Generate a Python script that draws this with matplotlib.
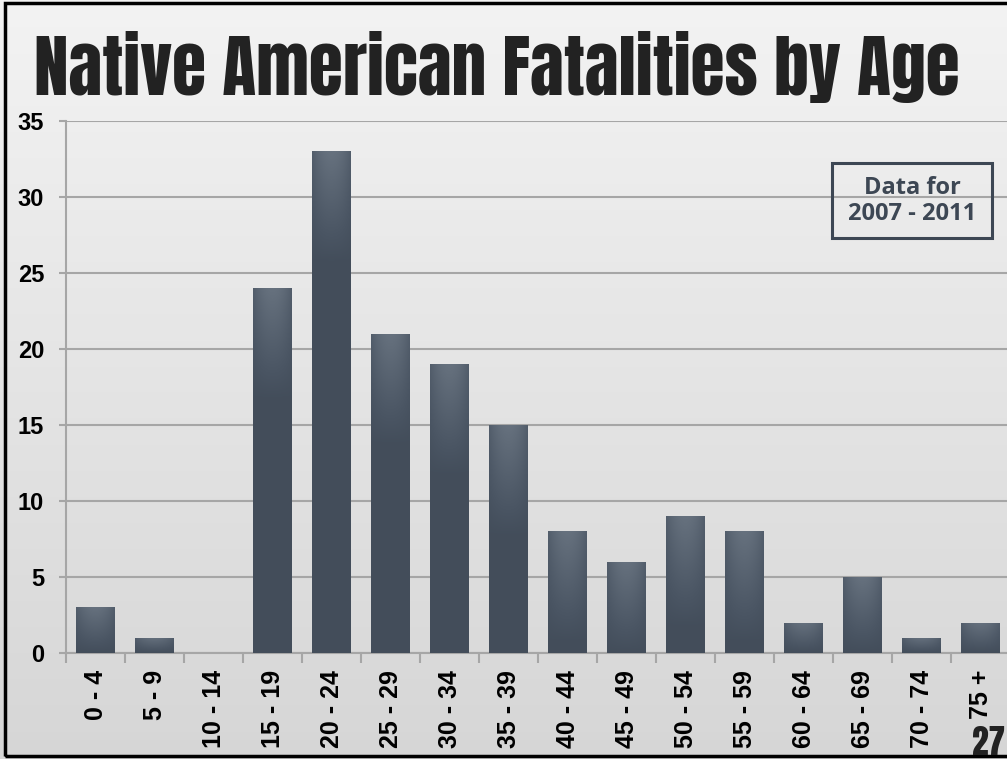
import matplotlib
matplotlib.use("Agg")
import matplotlib.pyplot as plt
import numpy as np
from matplotlib import font_manager
from matplotlib.colors import LinearSegmentedColormap

# data
age_groups = ["0 - 4", "5 - 9", "10 - 14", "15 - 19", "20 - 24", "25 - 29", "30 - 34",
              "35 - 39", "40 - 44", "45 - 49", "50 - 54", "55 - 59", "60 - 64",
              "65 - 69", "70 - 74", "75 +"]
fatalities = [3, 1, 0, 24, 33, 21, 19, 15, 8, 6, 9, 8, 2, 5, 1, 2]
y_ticks = [0, 5, 10, 15, 20, 25, 30, 35]

names = {f.name for f in font_manager.fontManager.ttflist}


def pick(cands, default="DejaVu Sans"):
    for c in cands:
        if c in names:
            return c
    return default


head_font = pick(["Anton", "Bebas Neue", "League Gothic", "Oswald", "Saira ExtraCondensed",
                  "Fira Sans Extra Condensed", "Barlow Condensed"])
label_font = pick(["Liberation Sans", "Arial"])
box_font = pick(["Open Sans", "Lato", "Noto Sans"])

fig = plt.figure(figsize=(10.07, 7.59), dpi=100)

# slide background: light grey gradient, lighter at the top
bg = fig.add_axes([0, 0, 1, 1], zorder=-10)
grad = np.linspace(0, 1, 256).reshape(-1, 1)
bg_cmap = LinearSegmentedColormap.from_list("bg", ["#f3f3f3", "#d6d6d6"])
bg.imshow(grad, aspect="auto", cmap=bg_cmap, extent=[0, 1, 0, 1])
bg.set_xlim(0, 1)
bg.set_ylim(0, 1)
bg.axis("off")

ax = fig.add_axes([0.0660, 0.1397, 0.9374, 0.7009])
ax.set_facecolor("none")
x = np.arange(len(age_groups))
bars = ax.bar(x, fatalities, width=0.66, color="#424c58", edgecolor="none", zorder=3)

# shaded bars: lighter at the top, darker toward the base and edges
bar_cmap = LinearSegmentedColormap.from_list("bar", ["#333c47", "#4a5563", "#66717e"])
for b in bars:
    h = b.get_height()
    if h <= 0:
        continue
    x0, w = b.get_x(), b.get_width()
    yy = np.linspace(0, 1, 200).reshape(-1, 1)
    xx = np.linspace(-1, 1, 60).reshape(1, -1)
    depth = min(h * 15.2, 110.0)
    vert = np.clip(1 - (1 - yy) * (h * 15.2) / depth, 0, 1)
    val = 0.35 + 0.65 * vert * (1 - 0.55 * xx ** 2)
    im = ax.imshow(val, aspect="auto", cmap=bar_cmap, vmin=0, vmax=1,
                   extent=[x0, x0 + w, 0, h], origin="lower", zorder=3)
    im.set_clip_path(b)

ax.set_xlim(-0.5, len(age_groups) - 0.5)
ax.set_ylim(0, 35)
ax.set_yticks(y_ticks)
ax.yaxis.grid(True, color="#a6a6a6", linewidth=1.5, zorder=0)
ax.set_axisbelow(True)
for s in ["top", "right"]:
    ax.spines[s].set_visible(False)
for s in ["left", "bottom"]:
    ax.spines[s].set_color("#a6a6a6")
    ax.spines[s].set_linewidth(1.5)

ax.set_xticks(x)
ax.set_xticklabels(age_groups, rotation=90, fontsize=18, fontweight="bold",
                   family=label_font, va="top", ha="center")
ax.set_xticks(np.arange(-0.5, len(age_groups)), minor=True)
ax.tick_params(axis="x", which="major", length=0, pad=12)
ax.tick_params(axis="x", which="minor", length=7, width=1.5, color="#a6a6a6")
ax.tick_params(axis="y", length=5, width=1.5, color="#a6a6a6", pad=11)
for t in ax.get_yticklabels():
    t.set_fontsize(17)
    t.set_fontweight("bold")
    t.set_family(label_font)

fig.text(497 / 1007, 1 - 95 / 759, "Native American Fatalities by Age", ha="center",
         va="baseline", fontsize=50, fontweight="black", family=head_font,
         color="#222222")

# "Data for" note box
fig.add_artist(plt.Rectangle((832 / 1007, 1 - 238 / 759), 160 / 1007, 75 / 759,
                             transform=fig.transFigure, fill=False, ec="#3d4754", lw=2.2))
fig.text(912 / 1007, 1 - 201 / 759, "Data for\n2007 - 2011", ha="center", va="center",
         fontsize=17, fontweight="bold", family=box_font, color="#3d4754",
         linespacing=1.12)

fig.text(1005 / 1007, 1 - 755 / 759, "27", ha="right", va="baseline", fontsize=24,
         fontweight="black", family=head_font, color="#222222")

# slide frame
fig.add_artist(plt.Rectangle((5 / 1007, 3 / 759), 1.2, 753 / 759, transform=fig.transFigure,
                             fill=False, ec="black", lw=2.5))

fig.savefig("out.png", dpi=100)
